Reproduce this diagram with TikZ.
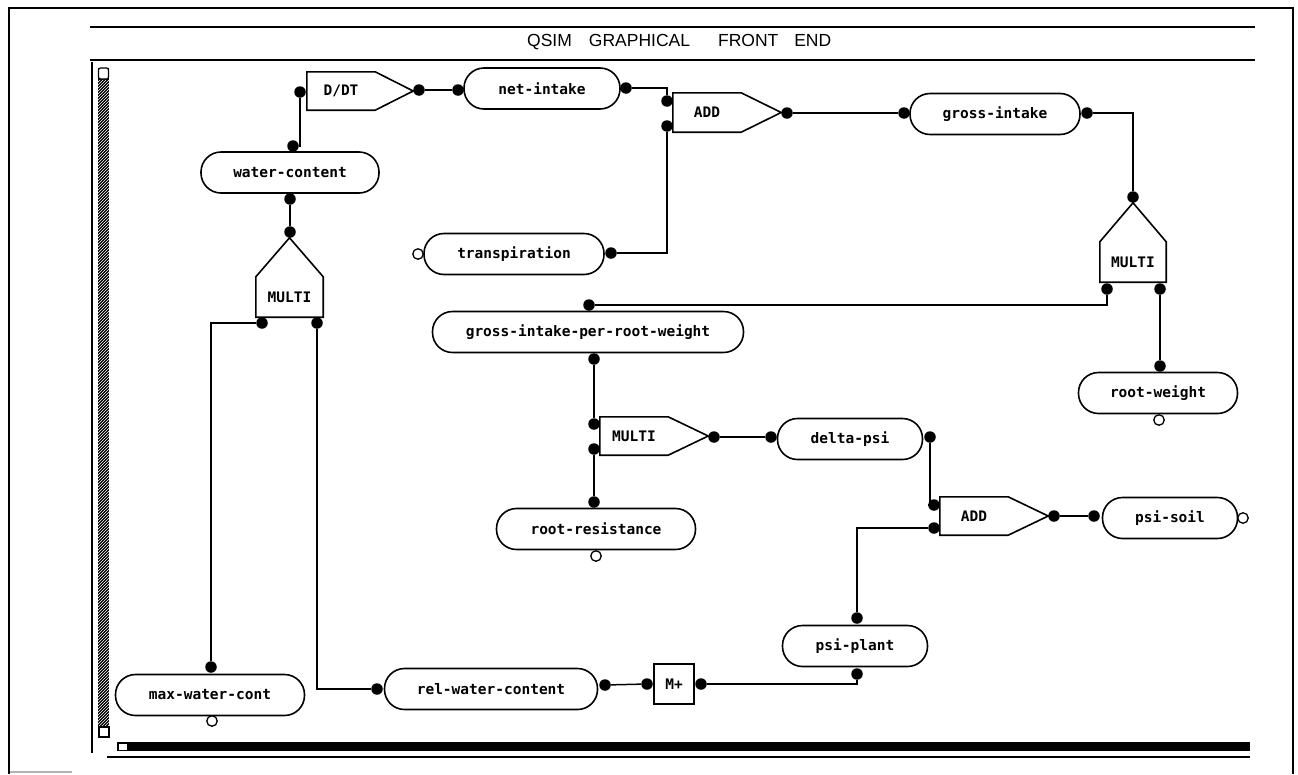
\documentclass[tikz,border=0pt]{standalone}
\usepackage{fontspec}
\newfontfamily\monof{DejaVu Sans Mono}
\newfontfamily\titlef{Liberation Sans}
\usetikzlibrary{patterns,calc}
\begin{document}
\begin{tikzpicture}[x=1pt,y=-1pt,
  lbl/.style={font=\monof\bfseries\fontsize{14.5}{16}\selectfont},
  var/.style={lbl, draw, line width=1.6pt, rounded corners=20pt, minimum height=41pt, inner sep=0pt},
  optxt/.style={lbl, inner sep=0pt, minimum width=68pt, minimum height=38pt},
  opline/.style={line width=1.6pt, line join=miter},
  port/.style={circle, fill=black, inner sep=0pt, minimum size=11.5pt},
  openport/.style={circle, draw, fill=white, line width=1.3pt, inner sep=0pt, minimum size=10.5pt},
  wire/.style={line width=1.5pt},
  frameline/.style={line width=2.8pt}]

\useasboundingbox (0,0) rectangle (1298,774);

% ---------- window frame ----------
\draw[frameline] (9,774) -- (9,8) -- (1293,8) -- (1293,774);
\draw[gray!60, line width=1.5pt] (10,772) -- (72,772);
\draw[frameline] (90,27) -- (1255,27);
\draw[frameline] (90,60) -- (1255,60);
\node[font=\titlef\fontsize{17.5}{20}\selectfont, anchor=base west, inner sep=0pt] (title) at (527,46)
  {QSIM\hspace{17pt}GRAPHICAL\hspace{28pt}FRONT\hspace{16pt}END};
\draw[line width=1.5pt] (92,62) -- (92,753);
% vertical scroll bar
\fill[black] (98,68) rectangle (109,738);
\fill[pattern=north east lines, pattern color=white] (98,80) rectangle (109,726);
\draw[line width=1.2pt, fill=white, rounded corners=2pt] (98.5,68) rectangle (108.5,79);
\draw[line width=1.2pt, fill=white] (99,727) rectangle (109,737);
% horizontal scroll bar
\fill[black] (117,742) rectangle (1250,751);
\fill[white] (119,744) rectangle (127,749.5);
\draw[line width=2pt] (107,757) -- (1250,757);

% ---------- variable nodes ----------
\node[var, minimum width=178pt] (wc)  at (290,172.5) {water-content};
\node[var, minimum width=156pt] (ni)  at (542,88.5) {net-intake};
\node[var, minimum width=170pt] (gi)  at (995,114) {gross-intake};
\node[var, minimum width=180pt] (tr)  at (514,254) {transpiration};
\node[var, minimum width=311pt] (gpw) at (588,332) {gross-intake-per-root-weight};
\node[var, minimum width=159pt] (rw)  at (1158,393) {root-weight};
\node[var, minimum width=145pt] (dp)  at (850,439) {delta-psi};
\node[var, minimum width=199pt] (rr)  at (596,529) {root-resistance};
\node[var, minimum width=135pt] (ps)  at (1170,518) {psi-soil};
\node[var, minimum width=145pt] (pp)  at (855,646) {psi-plant};
\node[var, minimum width=189pt] (mw)  at (210,695) {max-water-cont};
\node[var, minimum width=213pt] (rwc) at (491,689) {rel-water-content};

% ---------- operator nodes ----------
\node[optxt] (ddt) at (341,91) {D/DT};
\draw[opline] (ddt.north west) -- (ddt.north east) -- ([xshift=38pt]ddt.east) -- (ddt.south east) -- (ddt.south west) -- cycle;
\node[optxt, minimum height=39pt] (adda) at (707,112.5) {ADD};
\draw[opline] (adda.north west) -- (adda.north east) -- ([xshift=40pt]adda.east) -- (adda.south east) -- (adda.south west) -- cycle;
\node[optxt] (mc) at (634,436) {MULTI};
\draw[opline] (mc.north west) -- (mc.north east) -- ([xshift=40pt]mc.east) -- (mc.south east) -- (mc.south west) -- cycle;
\node[optxt] (addb) at (974,516) {ADD};
\draw[opline] (addb.north west) -- (addb.north east) -- ([xshift=40pt]addb.east) -- (addb.south east) -- (addb.south west) -- cycle;
\node[lbl, inner sep=0pt, minimum width=67pt, minimum height=40pt] (ma) at (289.5,297) {MULTI};
\draw[opline] (ma.south west) -- (ma.north west) -- ([yshift=39pt]ma.north) -- (ma.north east) -- (ma.south east) -- cycle;
\node[lbl, inner sep=0pt, minimum width=66pt, minimum height=40pt] (mb) at (1133,262) {MULTI};
\draw[opline] (mb.south west) -- (mb.north west) -- ([yshift=39pt]mb.north) -- (mb.north east) -- (mb.south east) -- cycle;
\node[lbl, draw, line width=1.6pt, inner sep=0pt, minimum size=40pt] (mp) at (674,684) {M+};

% ---------- ports ----------
\node[port] (ddtin)  at (300,92) {};
\node[port] (ddtout) at (419,90) {};
\node[port] (niin)   at (458,90) {};
\node[port] (niout)  at (626,88) {};
\node[port] (wctop)  at (293,146) {};
\node[port] (wcbot)  at (290,199) {};
\node[port] (matop)  at (290,232) {};
\node[port] (mabl)   at (262,323) {};
\node[port] (mabr)   at (317,323) {};
\node[port] (aain1)  at (667,101) {};
\node[port] (aain2)  at (667,126) {};
\node[port] (aaout)  at (787,113) {};
\node[port] (giin)   at (904,113) {};
\node[port] (giout)  at (1087,113) {};
\node[port] (trout)  at (611,253) {};
\node[port] (mbtop)  at (1133,197) {};
\node[port] (mbbl)   at (1107,289) {};
\node[port] (mbbr)   at (1160,289) {};
\node[port] (gpwtop) at (589,305) {};
\node[port] (gpwbot) at (594,359) {};
\node[port] (rwtop)  at (1160,366) {};
\node[port] (mcin1)  at (594,424) {};
\node[port] (mcin2)  at (594,449) {};
\node[port] (mcout)  at (714,437) {};
\node[port] (dpin)   at (771,437) {};
\node[port] (dpout)  at (930,437) {};
\node[port] (rrtop)  at (594,502) {};
\node[port] (abin1)  at (934,505) {};
\node[port] (abin2)  at (934,528) {};
\node[port] (about)  at (1054,516) {};
\node[port] (psin)   at (1094,516) {};
\node[port] (pptop)  at (857,618) {};
\node[port] (ppbot)  at (857,674) {};
\node[port] (mpout)  at (701,684) {};
\node[port] (mpin)   at (647,684) {};
\node[port] (rwcout) at (605,685) {};
\node[port] (rwcin)  at (377,689) {};
\node[port] (mwtop)  at (211,667) {};

\node[openport] (tro)  at (418,254) {};
\node[openport] (rwo)  at (1159,420) {};
\node[openport] (rro)  at (596,556) {};
\node[openport] (pso)  at (1243,518) {};
\node[openport] (mwo)  at (212,721) {};

% ---------- connectors ----------
\draw[wire] (ddtin) |- (wctop);
\draw[wire] (ddtout) -- (niin);
\draw[wire] (niout) -| (aain1);
\draw[wire] (aaout) -- (giin);
\draw[wire] (giout) -| (mbtop);
\draw[wire] (trout) -| (aain2);
\draw[wire] (mbbl) |- (gpwtop);
\draw[wire] (mbbr) -- (rwtop);
\draw[wire] (gpwbot) -- (mcin1);
\draw[wire] (mcin2) -- (rrtop);
\draw[wire] (mcout) -- (dpin);
\draw[wire] (dpout) |- (abin1);
\draw[wire] (about) -- (psin);
\draw[wire] (abin2) -| (pptop);
\draw[wire] (ppbot) |- (mpout);
\draw[wire] (mpin) -- (rwcout);
\draw[wire] (mabr) |- (rwcin);
\draw[wire] (mabl) -| (mwtop);
\draw[wire] (wcbot) -- (matop);
\end{tikzpicture}
\end{document}
